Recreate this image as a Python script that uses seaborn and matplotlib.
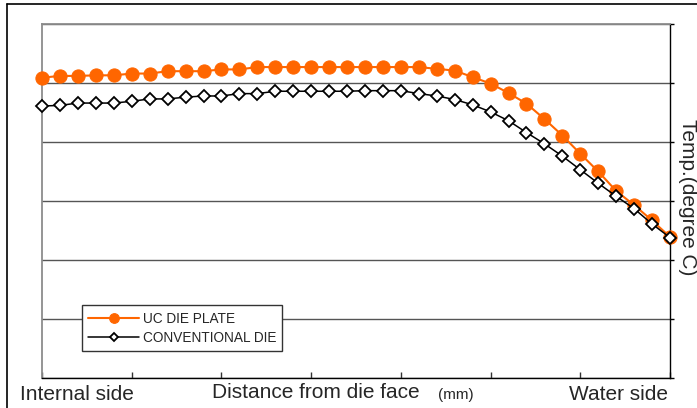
"""
Die plate temperature profile: UC die plate vs conventional die,
from the internal side to the water side.
"""

import matplotlib.pyplot as plt
from matplotlib.lines import Line2D
import seaborn as sns

# ---------------------------------------------------------------
# Data (arbitrary temp units 0-6)
# ---------------------------------------------------------------
position = list(range(36))

uc_die_plate = [5.09, 5.12, 5.12, 5.13, 5.13, 5.16, 5.16, 5.20, 5.20, 5.20,
                5.23, 5.23, 5.27, 5.27, 5.27, 5.27, 5.27, 5.27, 5.27, 5.27,
                5.27, 5.27, 5.24, 5.21, 5.10, 4.99, 4.83, 4.65, 4.39, 4.11,
                3.80, 3.50, 3.17, 2.93, 2.67, 2.39]

conventional_die = [4.61, 4.62, 4.66, 4.66, 4.66, 4.69, 4.73, 4.73, 4.76, 4.78,
                    4.78, 4.82, 4.82, 4.86, 4.86, 4.86, 4.86, 4.86, 4.87, 4.87,
                    4.87, 4.82, 4.78, 4.72, 4.63, 4.51, 4.36, 4.16, 3.97, 3.76,
                    3.53, 3.30, 3.08, 2.87, 2.61, 2.38]

series_labels = ["UC DIE PLATE", "CONVENTIONAL DIE"]
x_labels = ["Internal side", "Distance from die face", "(mm)", "Water side"]
y_label = "Temp.(degree C)"

ORANGE = "#FF6600"

sns.set_style("white")
plt.rcParams["font.family"] = ["Liberation Sans", "DejaVu Sans"]

fig = plt.figure(figsize=(6.97, 4.08), dpi=100)
ax = fig.add_axes([0.0603, 0.0735, 0.9010, 0.8677])

# horizontal grid lines
ax.set_ylim(0, 6)
ax.set_xlim(0, 35)
ax.set_yticks([0, 1, 2, 3, 4, 5, 6])
ax.set_xticks([0, 5, 10, 15, 20, 25, 30, 35])
ax.grid(axis="y", color="#555555", linewidth=1.0)
ax.grid(axis="x", visible=False)
ax.set_axisbelow(True)

sns.lineplot(x=position, y=uc_die_plate, ax=ax, color=ORANGE, linewidth=1.5,
             marker="o", markersize=9.5, markeredgecolor=ORANGE,
             label=series_labels[0], clip_on=False, zorder=3)
sns.lineplot(x=position, y=conventional_die, ax=ax, color="black", linewidth=1.1,
             marker="D", markersize=6, markerfacecolor="white",
             markeredgecolor="black", markeredgewidth=1.3,
             label=series_labels[1], clip_on=False, zorder=4)

# spines / ticks
for side in ["left", "top"]:
    ax.spines[side].set_color("#8c8c8c")
    ax.spines[side].set_linewidth(1.3)
for side in ["bottom", "right"]:
    ax.spines[side].set_color("black")
    ax.spines[side].set_linewidth(1.0)
ax.tick_params(axis="x", direction="in", length=4, width=1, color="#333333",
               bottom=True, labelbottom=False)
ax.tick_params(axis="y", direction="out", length=3, width=1, color="black",
               left=False, right=True, labelleft=False, labelright=False)
ax.set_xlabel("")
ax.set_ylabel("")

# legend
leg = ax.legend(loc="lower left", bbox_to_anchor=(0.064, 0.076), borderaxespad=0,
                fontsize=9.8, frameon=True, fancybox=False, framealpha=1,
                edgecolor="#333333", handlelength=3.7, handletextpad=0.3,
                labelspacing=0.4, borderpad=0.45)
leg.get_frame().set_linewidth(1.0)
hs = leg.legend_handles
hs[0].set_markersize(7)
hs[1].set_markersize(4)

# axis texts
fig.text(20 / 697, 1 - 395 / 408, x_labels[0], fontsize=15, va="center", ha="left")
fig.text(212 / 697, 1 - 393 / 408, x_labels[1], fontsize=15, va="center", ha="left")
fig.text(438 / 697, 1 - 395 / 408, x_labels[2], fontsize=11, va="center", ha="left")
fig.text(668 / 697, 1 - 395 / 408, x_labels[3], fontsize=15, va="center", ha="right")
fig.text(687 / 697, 1 - 197 / 408, y_label, fontsize=15, rotation=-90,
         va="center", ha="center")

# outer frame of the original figure (cut at right and bottom)
fig.add_artist(Line2D([6.5 / 697, 1.0], [1 - 3.5 / 408, 1 - 3.5 / 408],
                      transform=fig.transFigure, color="black", linewidth=1.2))
fig.add_artist(Line2D([6.5 / 697, 6.5 / 697], [0.0, 1 - 3.5 / 408],
                      transform=fig.transFigure, color="black", linewidth=1.2))

fig.savefig("out.png", dpi=100)
plt.close()
